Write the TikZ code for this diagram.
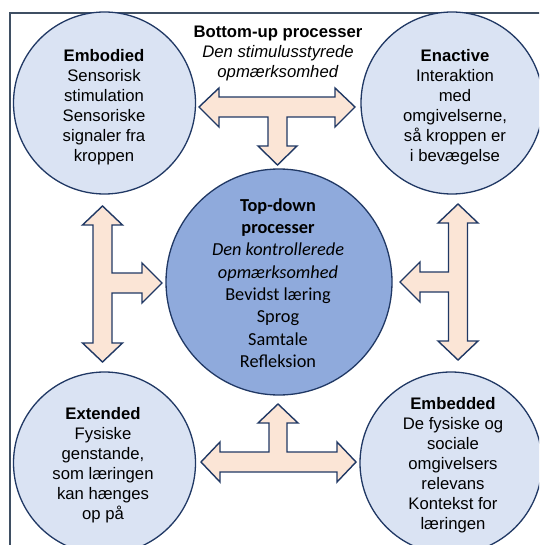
\documentclass[tikz,border=0pt]{standalone}
\usepackage{fontspec}
\setmainfont{Liberation Sans}
\newfontfamily\calfont{Carlito}
\definecolor{navy}{HTML}{203864}
\definecolor{framecol}{HTML}{3F4F63}
\definecolor{paleblue}{HTML}{DAE3F3}
\definecolor{midblue}{HTML}{8FAADC}
\definecolor{peach}{HTML}{FBE5D6}
\tikzset{
  outercircle/.style={circle, draw=navy, line width=1.3pt, fill=paleblue, minimum size=182pt, inner sep=0pt},
  centercircle/.style={circle, draw=navy, line width=1.3pt, fill=midblue, minimum size=226pt, inner sep=0pt},
  outertext/.style={align=center, font=\fontsize{16.7}{20}\selectfont, inner sep=0pt},
  centertext/.style={align=center, font=\calfont\fontsize{18.3}{22.3}\selectfont, inner sep=0pt},
  blockarrow/.style={draw=navy, line width=1.4pt, fill=peach, line join=miter}
}
\begin{document}
\begin{tikzpicture}[x=1pt, y=-1pt]
\useasboundingbox (0,0) rectangle (539,545);
\begin{scope}
\clip (0,0) rectangle (539,545);
% outer frame (its right and bottom sides run past the page)
\draw[framecol, line width=1.5pt] (10,560) -- (10,13) -- (560,13);

% circles
\node[outercircle] (embodied) at (104.5,103) {};
\node[outercircle] (enactive) at (452,103) {};
\node[outercircle] (extended) at (104.5,463) {};
\node[outercircle] (embedded) at (451,463) {};
\node[centercircle] (topdown) at (279,282) {};

% top T-arrow: left, right and down
\draw[blockarrow] (199,107) -- (219,88) -- (219,97) -- (335,97) -- (335,88) -- (355,107)
  -- (335,127) -- (335,117) -- (287,117) -- (287,146) -- (297,146) -- (277.5,165)
  -- (258,146) -- (268,146) -- (268,117) -- (219,117) -- (219,127) -- cycle;

% bottom T-arrow: left, right and up
\draw[blockarrow] (201,462) -- (220,442) -- (220,452) -- (269,452) -- (269,423) -- (258,423)
  -- (278,404) -- (298,423) -- (287,423) -- (287,452) -- (337,452) -- (337,442) -- (356,462)
  -- (337,482) -- (337,472) -- (220,472) -- (220,482) -- cycle;

% left T-arrow: up, down and right
\draw[blockarrow] (102.5,206) -- (122.5,225) -- (112,225) -- (112,273) -- (142,273) -- (142,263)
  -- (162,283) -- (142,303) -- (142,293) -- (112,293) -- (112,343) -- (122.5,343) -- (102.5,362)
  -- (82.5,343) -- (93,343) -- (93,225) -- (82.5,225) -- cycle;

% right T-arrow: up, down and left
\draw[blockarrow] (458,204) -- (478,223) -- (467.5,223) -- (467.5,341) -- (478,341) -- (458,360)
  -- (438,341) -- (448.5,341) -- (448.5,292) -- (420,292) -- (420,302) -- (400,282) -- (420,262)
  -- (420,272) -- (448.5,272) -- (448.5,223) -- (438,223) -- cycle;

% texts
\node[outertext] (bottomup) at (278,53.5) {\textbf{Bottom-up processer}\\ \textit{Den stimulusstyrede}\\ \textit{opmærksomhed}};
\node[outertext] (embodiedtext) at (104,107) {\textbf{Embodied}\\ Sensorisk\\ stimulation\\ Sensoriske\\ signaler fra\\ kroppen};
\node[outertext] (enactivetext) at (455,107) {\textbf{Enactive}\\ Interaktion\\ med\\ omgivelserne,\\ så kroppen er\\ i bevægelse};
\node[outertext] (extendedtext) at (103,465.5) {\textbf{Extended}\\ Fysiske\\ genstande,\\ som læringen\\ kan hænges\\ op på};
\node[outertext] (embeddedtext) at (453,465) {\textbf{Embedded}\\ De fysiske og\\ sociale\\ omgivelsers\\ relevans\\ Kontekst for\\ læringen};
\node[centertext] (topdowntext) at (278,283) {\textbf{Top-down}\\ \textbf{processer}\\ \textit{Den kontrollerede}\\ \textit{opmærksomhed}\\ Bevidst læring\\ Sprog\\ Samtale\\ Refleksion};
\end{scope}
\end{tikzpicture}
\end{document}
